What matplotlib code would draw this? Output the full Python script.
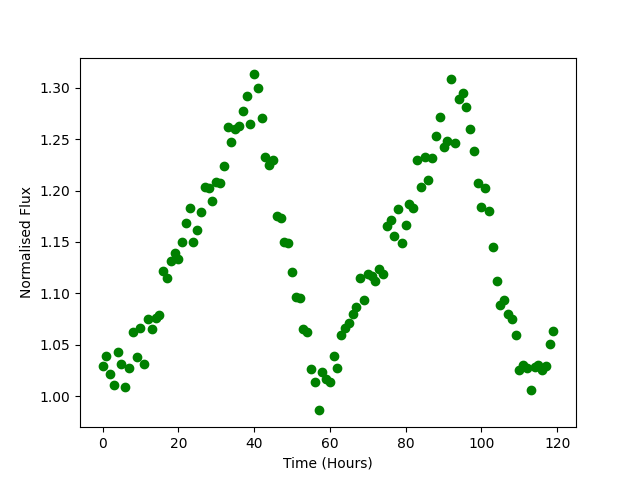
import matplotlib
matplotlib.use("Agg")
import matplotlib.pyplot as plt
import numpy as np

hours = np.arange(120)
flux = [
    1.029, 1.039, 1.021, 1.011, 1.043, 1.031, 1.009, 1.027, 1.062, 1.038,
    1.066, 1.031, 1.075, 1.065, 1.076, 1.079, 1.122, 1.115, 1.131, 1.139,
    1.133, 1.150, 1.168, 1.183, 1.150, 1.162, 1.179, 1.203, 1.202, 1.190,
    1.208, 1.207, 1.224, 1.262, 1.247, 1.260, 1.263, 1.277, 1.292, 1.265,
    1.313, 1.300, 1.271, 1.233, 1.225, 1.230, 1.175, 1.173, 1.150, 1.149,
    1.121, 1.096, 1.095, 1.065, 1.062, 1.026, 1.014, 0.986, 1.023, 1.017,
    1.014, 1.039, 1.027, 1.059, 1.066, 1.071, 1.080, 1.087, 1.115, 1.093,
    1.119, 1.117, 1.112, 1.124, 1.119, 1.165, 1.171, 1.156, 1.182, 1.149,
    1.166, 1.187, 1.183, 1.230, 1.203, 1.233, 1.210, 1.232, 1.253, 1.272,
    1.242, 1.248, 1.309, 1.246, 1.289, 1.295, 1.281, 1.260, 1.238, 1.207,
    1.184, 1.202, 1.180, 1.145, 1.112, 1.089, 1.093, 1.080, 1.075, 1.059,
    1.025, 1.030, 1.027, 1.006, 1.028, 1.030, 1.025, 1.029, 1.051, 1.063,
]

fig, ax = plt.subplots(figsize=(6.4, 4.8), dpi=100)
ax.plot(hours, flux, 'go')
ax.set_xlabel("Time (Hours)")
ax.set_ylabel("Normalised Flux")
fig.savefig("out.png")
